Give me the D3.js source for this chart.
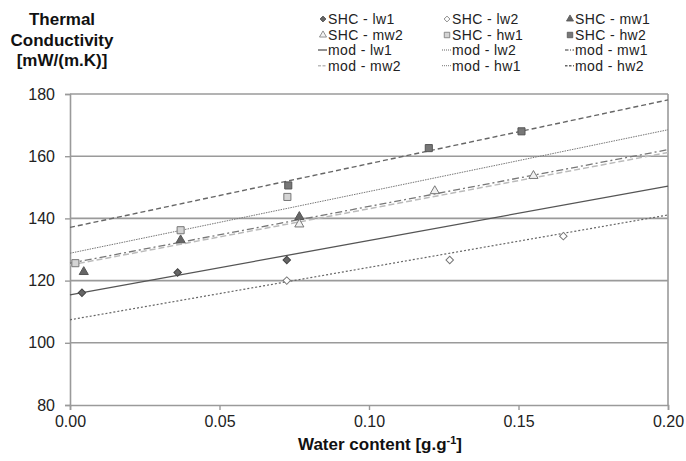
<!DOCTYPE html>
<html>
<head>
<title>Thermal conductivity vs water content</title>
<style>
body { margin: 0; background: #fff; }
.tick text { font-family: Arial, "Liberation Sans", sans-serif; font-size: 16px; fill: #222; }
.axisTitle { font-family: Arial, "Liberation Sans", sans-serif; font-weight: bold; font-size: 17px; fill: #111; }
.legend text { font-family: Arial, "Liberation Sans", sans-serif; font-size: 14px; letter-spacing: 0.4px; fill: #222; }
</style>
<script src="https://d3js.org/d3.v7.min.js"></script>
</head>
<body>
<svg id="chart" width="686" height="461"></svg>
<script>

// measured points (SHC)
var lw1X = [0.004, 0.036, 0.0725];
var lw1Y = [116.1, 122.6, 126.6];
var lw2X = [0.0725, 0.127, 0.165];
var lw2Y = [120.0, 126.6, 134.3];
var mw1X = [0.0046, 0.037, 0.0767];
var mw1Y = [122.8, 133.0, 140.5];
var mw2X = [0.0767, 0.122, 0.155];
var mw2Y = [138.1, 148.8, 153.7];
var hw1X = [0.0018, 0.037, 0.0727];
var hw1Y = [125.6, 136.2, 146.9];
var hw2X = [0.073, 0.120, 0.151];
var hw2Y = [150.6, 162.6, 168.0];

// model lines, value at each end of the x range
var modX = [0, 0.2];
var modLw1 = [115.4, 150.4];
var modLw2 = [107.4, 141.1];
var modMw1 = [125.6, 162.1];
var modMw2 = [125.0, 161.2];
var modHw1 = [128.8, 168.5];
var modHw2 = [137.1, 178.1];

var xTicks = [0, 0.05, 0.10, 0.15, 0.20];
var yTicks = [80, 100, 120, 140, 160, 180];
var shcNames = ['SHC - lw1', 'SHC - lw2', 'SHC - mw1', 'SHC - mw2', 'SHC - hw1', 'SHC - hw2'];
var modNames = ['mod - lw1', 'mod - lw2', 'mod - mw1', 'mod - mw2', 'mod - hw1', 'mod - hw2'];

var margin = {top: 94, right: 18, bottom: 56, left: 70};
var width = 686, height = 461;

var x = d3.scaleLinear().domain([0, 0.2]).range([margin.left, width - margin.right]);
var y = d3.scaleLinear().domain([80, 180]).range([height - margin.bottom, margin.top]);

var svg = d3.select('#chart');

// marker + line styles per series (diamond = square turned 45deg)
var pointStyle = [
  {shape: d3.symbolSquare, rot: 45, size: 28, fill: '#666', stroke: '#444'},
  {shape: d3.symbolSquare, rot: 45, size: 28, fill: '#fff', stroke: '#777'},
  {shape: d3.symbolTriangle, rot: 0, size: 36, fill: '#666', stroke: '#555'},
  {shape: d3.symbolTriangle, rot: 0, size: 36, fill: '#f2f2f2', stroke: '#777'},
  {shape: d3.symbolSquare, rot: 0, size: 50, fill: '#d4d4d4', stroke: '#777'},
  {shape: d3.symbolSquare, rot: 0, size: 50, fill: '#777', stroke: '#555'}
];
var lineStyle = [
  {color: '#555', dash: null, w: 1.3},
  {color: '#666', dash: '2,2', w: 1.2},
  {color: '#777', dash: '7,3,2,3', w: 1.3},
  {color: '#bbb', dash: '6,3', w: 1.5},
  {color: '#777', dash: '1.5,1', w: 1},
  {color: '#666', dash: '5,3', w: 1.4}
];

// grid
svg.append('g')
  .selectAll('line')
  .data(yTicks.slice(1))
  .join('line')
  .attr('x1', x(0)).attr('x2', x(0.2))
  .attr('y1', d => y(d)).attr('y2', d => y(d))
  .attr('stroke', '#9a9a9a').attr('stroke-width', 1.6);

// right border
svg.append('line')
  .attr('x1', x(0.2)).attr('x2', x(0.2))
  .attr('y1', y(180)).attr('y2', y(80))
  .attr('stroke', '#9a9a9a').attr('stroke-width', 1.6);

// axes
var xAxis = svg.append('g')
  .attr('transform', 'translate(0,' + y(80) + ')')
  .call(d3.axisBottom(x).tickValues(xTicks).tickFormat(d3.format('.2f')).tickSizeOuter(0).tickSize(5).tickPadding(6));
var yAxis = svg.append('g')
  .attr('transform', 'translate(' + x(0) + ',0)')
  .call(d3.axisLeft(y).tickValues(yTicks).tickSizeOuter(0).tickSize(5).tickPadding(10));
[xAxis, yAxis].forEach(function(a) {
  a.select('.domain').attr('stroke', '#9a9a9a').attr('stroke-width', 1.6);
  a.selectAll('.tick line').attr('stroke', '#9a9a9a').attr('stroke-width', 1.4);
});

// model lines
var mods = [modLw1, modLw2, modMw1, modMw2, modHw1, modHw2];
var line = d3.line().x(d => x(d[0])).y(d => y(d[1]));
mods.forEach(function(m, i) {
  svg.append('path')
    .datum(modX.map((v, j) => [v, m[j]]))
    .attr('fill', 'none')
    .attr('stroke', lineStyle[i].color)
    .attr('stroke-width', lineStyle[i].w)
    .attr('stroke-dasharray', lineStyle[i].dash)
    .attr('d', line);
});

// points
var xs = [lw1X, lw2X, mw1X, mw2X, hw1X, hw2X];
var ys = [lw1Y, lw2Y, mw1Y, mw2Y, hw1Y, hw2Y];
xs.forEach(function(xv, i) {
  var st = pointStyle[i];
  svg.append('g')
    .selectAll('path')
    .data(xv.map((v, j) => [v, ys[i][j]]))
    .join('path')
    .attr('transform', d => 'translate(' + x(d[0]) + ',' + y(d[1]) + ') rotate(' + st.rot + ')')
    .attr('d', d3.symbol().type(st.shape).size(st.size))
    .attr('fill', st.fill)
    .attr('stroke', st.stroke)
    .attr('stroke-width', 1);
});

// axis titles
svg.append('text')
  .attr('class', 'axisTitle')
  .attr('x', 380).attr('y', 450)
  .attr('text-anchor', 'middle')
  .html('Water content [g.g<tspan dy="-6" font-size="11px">-1</tspan><tspan dy="6">]</tspan>');

var yTitle = ['Thermal', 'Conductivity', '[mW/(m.K)]'];
svg.append('g')
  .selectAll('text')
  .data(yTitle)
  .join('text')
  .attr('class', 'axisTitle')
  .attr('x', 62)
  .attr('y', (d, i) => 25 + i * 20.5)
  .attr('text-anchor', 'middle')
  .text(d => d);

// legend: 3 columns, SHC rows first then mod rows
var colX = [328, 452, 575];
var rowY = [24, 40, 55, 70.7];
var legend = svg.append('g').attr('class', 'legend');

shcNames.forEach(function(name, i) {
  var cx = colX[i % 3], ry = rowY[Math.floor(i / 3)];
  var st = pointStyle[i];
  legend.append('path')
    .attr('transform', 'translate(' + (cx - 5) + ',' + (ry - 5) + ') rotate(' + st.rot + ')')
    .attr('d', d3.symbol().type(st.shape).size(st.size * 0.6))
    .attr('fill', st.fill).attr('stroke', st.stroke).attr('stroke-width', 0.8);
  legend.append('text').attr('x', cx).attr('y', ry).text(name);
});

modNames.forEach(function(name, i) {
  var cx = colX[i % 3], ry = rowY[2 + Math.floor(i / 3)];
  var ls = lineStyle[i];
  legend.append('line')
    .attr('x1', cx - 10).attr('x2', cx - 1)
    .attr('y1', ry - 5).attr('y2', ry - 5)
    .attr('stroke', ls.color).attr('stroke-width', ls.w)
    .attr('stroke-dasharray', ls.dash ? ls.dash.split(',').map(v => Math.max(1, v / 2)).join(',') : null);
  legend.append('text').attr('x', cx).attr('y', ry).text(name);
});

</script>
</body>
</html>
